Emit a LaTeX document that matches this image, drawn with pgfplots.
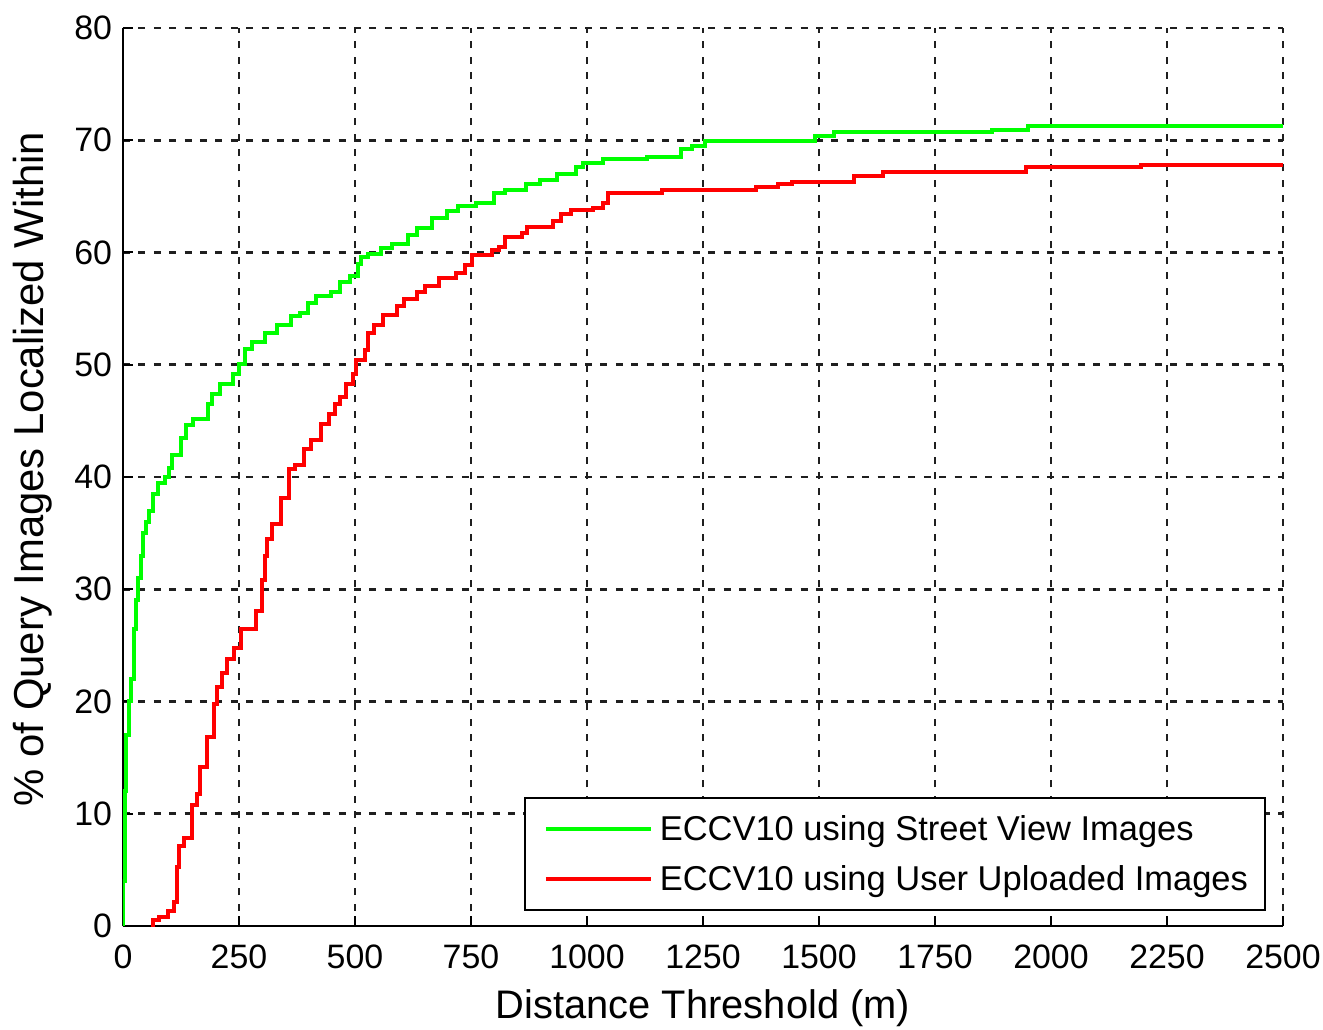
\documentclass[border=0pt]{standalone}
\usepackage{fontspec}
\setmainfont{Liberation Sans}
\usepackage{pgfplots}
\pgfplotsset{compat=1.18}
\begin{document}
\begin{tikzpicture}
\path[use as bounding box] (-61.5bp,-52bp) rectangle (600bp,463bp);
\begin{axis}[%
width=580bp,
height=449bp,
scale only axis,
xmin=0, xmax=2500,
ymin=0, ymax=80,
xtick={0,250,...,2500},
ytick={0,10,...,80},
axis x line*=bottom,
axis y line*=left,
axis line style={-, line width=1bp, black},
tick align=inside,
major tick length=5bp,
tick style={line width=1bp, black},
grid=major,
major grid style={black!88, line width=1.3bp, dash pattern=on 3.5bp off 4.2bp},
ticklabel style={font=\fontsize{17}{20}\selectfont},
xticklabel style={yshift=-6bp},
yticklabel style={xshift=-2bp},
/pgf/number format/assume math mode=true,
/pgf/number format/1000 sep={},
xlabel={Distance Threshold (m)},
ylabel={\% of Query Images Localized Within},
xlabel style={font=\fontsize{20}{24}\selectfont, at={(axis description cs:0.5,0)}, anchor=center, yshift=-41bp},
ylabel style={font=\fontsize{21}{25}\selectfont, at={(axis description cs:0,0.5)}, anchor=center, yshift=45bp, xshift=4bp},
legend style={at={(axis description cs:1,0)}, anchor=south east, xshift=-8.5bp, yshift=7.5bp,
  draw=black, line width=1bp, font=\fontsize{17.3}{20}\selectfont, row sep=7bp,
  inner xsep=6.5bp, inner ysep=6.5bp},
legend cell align=left,
legend image code/.code={\path (-3bp,0bp); \draw[#1] (0bp,0bp) -- (52.5bp,0bp); \path (54bp,0bp);},
]
\addplot[const plot, color=green, line width=2bp] coordinates {
(0,0) (0,4) (4,12) (7,17) (13,20) (18,22) (24,26.5) (28,29) (32,31) (38,33)
(43,35) (50,36) (57,37) (65,38.5) (75,39.5) (90,40) (100,40.8) (106,42.0)
(125,43.5) (136,44.6) (150,45.2) (183,46.5) (192,47.4) (210,48.3) (236,49.2)
(250,50.1) (262,51.4) (278,52.0) (305,52.8) (332,53.5) (362,54.3) (382,54.6)
(398,55.5) (416,56.1) (449,56.5) (468,57.4) (489,57.9) (507,59.0) (514,59.6)
(528,59.9) (557,60.4) (579,60.8) (615,61.6) (633,62.2) (666,63.1) (698,63.7)
(723,64.1) (760,64.4) (800,65.3) (823,65.6) (868,66.1) (898,66.5) (935,67.0)
(976,67.6) (991,68.0) (1034,68.3) (1129,68.5) (1203,69.2) (1226,69.5)
(1255,69.9) (1491,70.4) (1532,70.7) (1872,70.9) (1950,71.3) (2500,71.3)
};
\addlegendentry{ECCV10 using Street View Images}
\addplot[const plot, color=red, line width=2bp] coordinates {
(60,0) (64,0.5) (78,0.8) (98,1.3) (110,2.1) (117,5.3) (120,7.1) (131,7.8)
(148,10.8) (160,11.8) (166,14.2) (182,16.8) (196,19.8) (203,21.3) (214,22.5)
(225,23.8) (240,24.8) (254,26.5) (286,28.1) (300,30.8) (305,33.0) (311,34.5)
(322,35.8) (340,38.1) (358,40.7) (370,41.1) (391,42.5) (405,43.3) (427,44.7)
(445,45.6) (456,46.5) (467,47.1) (480,48.3) (496,49.2) (503,50.4) (521,51.3)
(528,52.8) (540,53.5) (560,54.4) (590,55.2) (605,55.9) (633,56.5) (651,57.0)
(680,57.7) (718,58.2) (736,58.9) (752,59.8) (795,60.2) (810,60.5) (824,61.4)
(860,61.7) (870,62.3) (926,62.8) (945,63.4) (966,63.8) (1013,64.0) (1034,64.4)
(1046,65.3) (1162,65.6) (1365,65.8) (1411,66.1) (1442,66.3) (1576,66.8)
(1638,67.2) (1946,67.6) (2193,67.75) (2500,67.75)
};
\addlegendentry{ECCV10 using User Uploaded Images}
\end{axis}
\end{tikzpicture}
\end{document}
